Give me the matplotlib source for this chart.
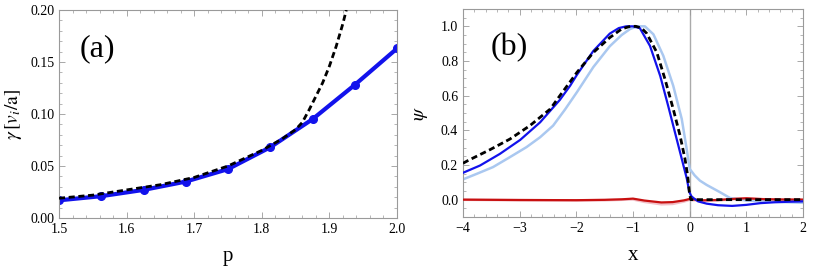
import matplotlib
matplotlib.use("Agg")
import matplotlib.pyplot as plt
from matplotlib.ticker import MultipleLocator, FormatStrFormatter

plt.rcParams['font.family'] = ['Liberation Serif', 'DejaVu Serif']
plt.rcParams['mathtext.fontset'] = 'stix'

# ---- panel (a) data ----
p_pts = [1.5, 1.5625, 1.625, 1.6875, 1.75, 1.8125, 1.875, 1.9375, 2.0]
gamma_pts = [0.017, 0.021, 0.027, 0.035, 0.047, 0.068, 0.095, 0.128, 0.163]
p_theory = [1.5, 1.55, 1.6, 1.65, 1.7, 1.75, 1.8, 1.83, 1.85, 1.86, 1.87, 1.88,
            1.89, 1.90, 1.91, 1.92, 1.925]
gamma_theory = [0.019, 0.022, 0.027, 0.032, 0.039, 0.050, 0.065, 0.076, 0.085,
                0.092, 0.104, 0.117, 0.130, 0.146, 0.165, 0.187, 0.20]

# ---- panel (b) data ----
x_blue = [-4.0, -3.70, -3.35, -2.99, -2.64, -2.29, -2.11, -1.99, -1.70, -1.41,
          -1.25, -1.12, -1.0, -0.88, -0.70, -0.52, -0.38, -0.26, -0.14, -0.05,
          -0.006, 0.03, 0.064, 0.15, 0.3, 0.5, 0.75, 1.0, 1.25, 1.5, 1.75, 2.0]
psi_blue = [0.155, 0.197, 0.264, 0.345, 0.446, 0.576, 0.657, 0.72, 0.858, 0.958,
            0.99, 1.0, 1.0, 0.99, 0.887, 0.714, 0.542, 0.389, 0.236, 0.121,
            0.044, 0.02, 0.01, -0.01, -0.023, -0.032, -0.036, -0.03, -0.02,
            -0.015, -0.012, -0.01]

x_dash = [-4.0, -3.91, -3.52, -3.17, -2.82, -2.46, -2.29, -2.11, -1.99, -1.70,
          -1.41, -1.2, -1.05, -0.95, -0.85, -0.76, -0.58, -0.435, -0.29, -0.17,
          -0.083, -0.036, -0.006, 0.02, 0.5, 1.0, 1.5, 2.0]
psi_dash = [0.21, 0.226, 0.289, 0.35, 0.427, 0.523, 0.60, 0.68, 0.734, 0.849,
            0.935, 0.985, 1.0, 1.0, 0.99, 0.96, 0.85, 0.695, 0.523, 0.37,
            0.236, 0.14, 0.044, 0.0, 0.0, 0.0, 0.0, 0.0]

x_light = [-4.0, -3.75, -3.47, -3.2, -2.88, -2.64, -2.41, -2.2, -1.99, -1.70,
           -1.41, -1.2, -1.05, -0.92, -0.79, -0.64, -0.465, -0.29, -0.14, -0.053,
           0.0, 0.088, 0.18, 0.3, 0.53, 0.71, 1.0, 1.5, 2.0]
psi_light = [0.117, 0.15, 0.188, 0.24, 0.303, 0.36, 0.427, 0.52, 0.62, 0.765,
             0.885, 0.95, 0.985, 1.0, 1.0, 0.954, 0.83, 0.657, 0.466, 0.293,
             0.178, 0.14, 0.11, 0.085, 0.044, 0.01, -0.005, -0.012, -0.018]

x_red = [-4, -3, -2, -1.5, -1.2, -1.0, -0.8, -0.5, -0.3, -0.1, 0, 0.2, 0.5,
         0.8, 1.0, 1.3, 1.6, 2.0]
psi_red = [0.0, -0.002, -0.003, -0.001, 0.002, 0.006, -0.005, -0.016, -0.014,
           -0.004, 0.004, -0.004, -0.002, 0.005, 0.008, 0.003, 0.001, 0.0]
psi_red_light = [0.0, -0.003, -0.005, -0.003, 0.0, 0.002, -0.012, -0.026,
                 -0.024, -0.01, 0.0, -0.006, -0.003, 0.003, 0.006, 0.002, 0.0, 0.0]

BLUE = '#1212ec'
LIGHT = '#aac8f0'
RED = '#c81010'
FRAME = '#9a9a9a'

fig = plt.figure(figsize=(8.13, 2.74), dpi=100)
ax1 = fig.add_axes([59/813, 1-218/274, (397-59)/813, (218-10)/274])
ax2 = fig.add_axes([463/813, 1-217/274, (803-463)/813, (217-9)/274])


def style(ax):
    for s in ax.spines.values():
        s.set_color(FRAME)
        s.set_linewidth(0.8)
    ax.tick_params(which='both', direction='in', top=True, right=True,
                   color=FRAME, labelsize=10, labelcolor='black')
    ax.tick_params(which='major', length=4, width=0.6)
    ax.tick_params(which='minor', length=2.2, width=0.5)


# panel (a)
ax1.plot(p_theory, gamma_theory, color='black', lw=2.0, ls=(0, (2.2, 1.3)), zorder=3)
ax1.plot(p_pts, gamma_pts, color=BLUE, lw=3.0, marker='o', ms=5.5, zorder=2)
ax1.set_xlim(1.5, 2.0)
ax1.set_ylim(0.0, 0.2)
ax1.xaxis.set_major_locator(MultipleLocator(0.1))
ax1.xaxis.set_minor_locator(MultipleLocator(0.02))
ax1.yaxis.set_major_locator(MultipleLocator(0.05))
ax1.yaxis.set_minor_locator(MultipleLocator(0.01))
ax1.yaxis.set_major_formatter(FormatStrFormatter('%.2f'))
ax1.xaxis.set_major_formatter(FormatStrFormatter('%.1f'))
style(ax1)
ax1.set_xlabel('p', fontsize=15, labelpad=8)
ax1.set_ylabel(r'$\gamma\,[v_i/\mathrm{a}]$', fontsize=14, labelpad=4)
ax1.text(0.06, 0.78, '(a)', transform=ax1.transAxes, fontsize=23)

# panel (b)
ax2.axvline(0, color='#aaaaaa', lw=1.0, zorder=1)
ax2.plot(x_red, psi_red_light, color='#f2c0c8', lw=2.0, zorder=2)
ax2.plot(x_light, psi_light, color=LIGHT, lw=1.8, zorder=2)
ax2.plot(x_red, psi_red, color=RED, lw=1.6, zorder=3)
ax2.plot(x_blue, psi_blue, color=BLUE, lw=1.6, zorder=4)
ax2.plot(x_dash, psi_dash, color='black', lw=2.0, ls=(0, (2.2, 1.3)), zorder=5)
ax2.set_xlim(-4, 2)
ax2.set_ylim(-0.1, 1.1)
ax2.xaxis.set_minor_locator(MultipleLocator(0.2))
ax2.yaxis.set_major_locator(MultipleLocator(0.2))
ax2.yaxis.set_minor_locator(MultipleLocator(0.05))
ax2.yaxis.set_major_formatter(FormatStrFormatter('%.1f'))
ax2.set_xticks([-4, -3, -2, -1, 0, 1, 2])
ax2.set_xticklabels(['\u22124', '\u22123', '\u22122', '\u22121', '0', '1', '2'])
style(ax2)
ax2.set_xlabel('x', fontsize=15, labelpad=8)
ax2.set_ylabel(r'$\psi$', fontsize=14, labelpad=8)
ax2.text(0.08, 0.78, '(b)', transform=ax2.transAxes, fontsize=23)

fig.savefig('out.png', dpi=100)
